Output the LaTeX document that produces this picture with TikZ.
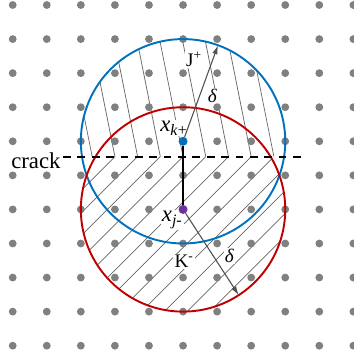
\documentclass[tikz,border=0pt]{standalone}
\usepackage{fontspec}
\setmainfont{Liberation Serif}
\usepackage{xcolor}
\usepackage{tikz}
\usetikzlibrary{arrows.meta,positioning}
\definecolor{pd_blue}{RGB}{0,114,189}
\definecolor{pd_red}{RGB}{192,0,0}
\definecolor{pd_purple}{RGB}{112,48,160}
\definecolor{pd_dot}{RGB}{128,128,128}
\definecolor{pd_arrow}{RGB}{80,80,80}

\begin{document}
\begin{tikzpicture}[
    hatch/.style={draw=black!60, line width=0.6pt},
    lbl/.style={fill=white, inner sep=1pt},
    ctr/.style={circle, inner sep=0pt, minimum size=7.5pt},
    dlt/.style={-{Latex[length=7.5pt,width=4.5pt]}, draw=pd_arrow, line width=0.9pt}]
        \useasboundingbox (-0.373,0.147) rectangle (10.018,-10.244);
        % hatching of the two horizons
        \begin{scope}
          \clip (5,-4) circle (3);
          \clip (1,-4.45) rectangle (9,0);
          \foreach \k in {-6,...,6}
            \draw[hatch] (5+\k*2/3,-4.45) -- ++(-0.8,4);
        \end{scope}
        \begin{scope}
          \clip (5,-6) circle (3);
          \clip (1,-4.45) rectangle (9,-10);
          \foreach \k in {-6,...,13}
            \draw[hatch] (5+\k*2/3,-4.45) -- ++(-5,-5);
        \end{scope}
        % labels
        \node[lbl, font=\fontsize{19}{22}\selectfont] (xk) at (4.73,-3.61)
          {\textit{x}\textsubscript{\textit{k}+}};
        \node[lbl, font=\fontsize{19}{22}\selectfont] (xj) at (4.68,-6.31)
          {\textit{x}\textsubscript{\textit{j}-}};
        \node[lbl, font=\fontsize{16}{18}\selectfont] (J) at (5.32,-1.6) {J\textsuperscript{+}};
        \node[lbl, font=\fontsize{16}{18}\selectfont] (K) at (5.03,-7.53) {K\textsuperscript{-}};
        \node[lbl, font=\fontsize{16}{18}\selectfont] (dJ) at (5.86,-2.66) {\textit{δ}};
        \node[lbl, font=\fontsize{16}{18}\selectfont] (dK) at (6.36,-7.37) {\textit{δ}};
        % material points
        \foreach \i in {0,...,10}
          \foreach \j in {0,...,10}
            \fill[pd_dot] (\i,-\j) circle (0.115);
        % horizons
        \draw[pd_blue, line width=1.6pt] (5,-4) circle (3);
        \draw[pd_red, line width=1.6pt] (5,-6) circle (3);
        % crack
        \coordinate (cl) at (1.48,-4.45);
        \coordinate (cr) at (8.5,-4.45);
        \draw[line width=1.6pt, dash pattern=on 6.5pt off 5.5pt] (cl) -- (cr);
        \node[left=1pt of cl, yshift=-3.3pt, font=\fontsize{19}{22}\selectfont, inner sep=1pt] (crack) {crack};
        % the two points and their bond
        \node[ctr, fill=pd_blue] (kp) at (5,-4) {};
        \node[ctr, fill=pd_purple] (jm) at (5,-6) {};
        \draw[line width=2pt] (kp) -- (jm);
        \coordinate (Jend) at ([shift={(70:3)}]5,-4);
        \coordinate (Kend) at ([shift={(-57:3)}]5,-6);
        \draw[dlt] (kp) -- (Jend);
        \draw[dlt] (jm) -- (Kend);
      \end{tikzpicture}
\end{document}
